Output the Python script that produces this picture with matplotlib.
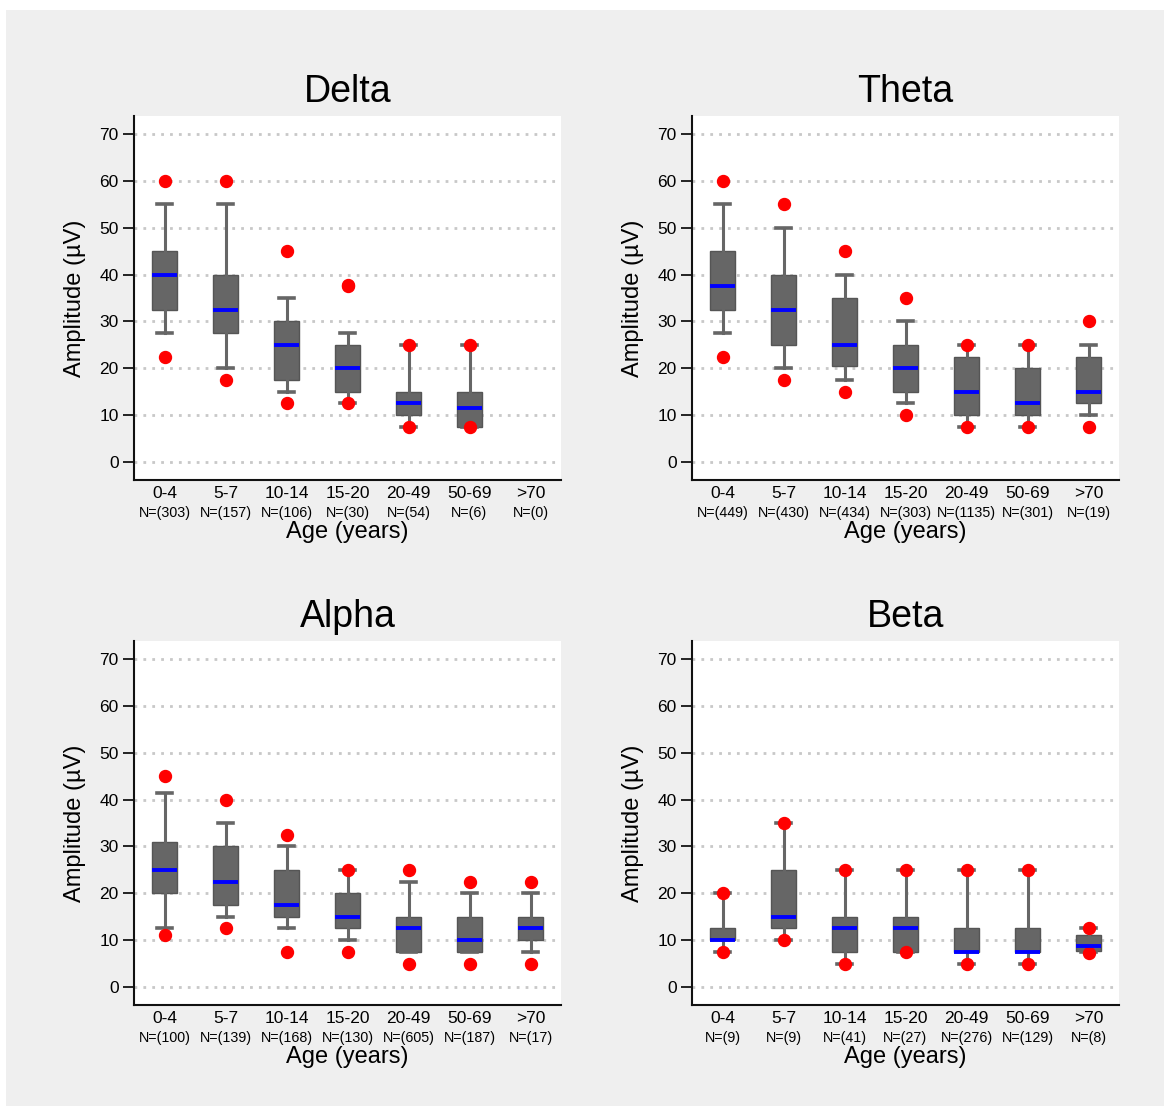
import matplotlib
matplotlib.use("Agg")
import matplotlib.pyplot as plt
from matplotlib.patches import Rectangle

plt.rcParams['font.family'] = ['Liberation Sans', 'DejaVu Sans']

# ---------------- data ----------------
age_groups = ["0-4", "5-7", "10-14", "15-20", "20-49", "50-69", ">70"]
titles = ["Delta", "Theta", "Alpha", "Beta"]

delta_n = [303, 157, 106, 30, 54, 6, 0]
delta_whislo = [27.5, 20, 15, 12.5, 7.5, 7.5]
delta_q1 = [32.5, 27.5, 17.5, 15, 10, 7.5]
delta_med = [40, 32.5, 25, 20, 12.5, 11.5]
delta_q3 = [45, 40, 30, 25, 15, 15]
delta_whishi = [55, 55, 35, 27.5, 25, 25]
delta_out = [[60, 22.5], [60, 17.5], [45, 12.5], [37.5, 37.8, 12.5], [25, 7.5], [25, 7.5]]

theta_n = [449, 430, 434, 303, 1135, 301, 19]
theta_whislo = [27.5, 20, 17.5, 12.5, 7.5, 7.5, 10]
theta_q1 = [32.5, 25, 20.5, 15, 10, 10, 12.5]
theta_med = [37.5, 32.5, 25, 20, 15, 12.5, 15]
theta_q3 = [45, 40, 35, 25, 22.5, 20, 22.5]
theta_whishi = [55, 50, 40, 30, 25, 25, 25]
theta_out = [[60, 22.5], [55, 17.5], [45, 15], [35, 10], [25, 7.5], [25, 7.5], [30, 7.5]]

alpha_n = [100, 139, 168, 130, 605, 187, 17]
alpha_whislo = [12.5, 15, 12.5, 10, 7.5, 7.5, 7.5]
alpha_q1 = [20, 17.5, 15, 12.5, 7.5, 7.5, 10]
alpha_med = [25, 22.5, 17.5, 15, 12.5, 10, 12.5]
alpha_q3 = [31, 30, 25, 20, 15, 15, 15]
alpha_whishi = [41.3, 35, 30, 25, 22.5, 20, 20]
alpha_out = [[45, 11], [40, 12.5], [32.5, 7.5], [25, 7.5], [25, 5], [22.5, 5], [22.5, 5]]

beta_n = [9, 9, 41, 27, 276, 129, 8]
beta_whislo = [7.5, 10, 5, 7.5, 5, 5, 7.5]
beta_q1 = [10, 12.5, 7.5, 7.5, 7.5, 7.5, 7.7]
beta_med = [10, 15, 12.5, 12.5, 7.5, 7.5, 8.7]
beta_q3 = [12.5, 25, 15, 15, 12.5, 12.5, 11]
beta_whishi = [20, 35, 25, 25, 25, 25, 12.5]
beta_out = [[20, 7.5], [35, 10], [25, 5], [25, 7.5], [25, 5], [25, 5], [12.5, 7.2]]

panels = [
    (delta_n, delta_whislo, delta_q1, delta_med, delta_q3, delta_whishi, delta_out),
    (theta_n, theta_whislo, theta_q1, theta_med, theta_q3, theta_whishi, theta_out),
    (alpha_n, alpha_whislo, alpha_q1, alpha_med, alpha_q3, alpha_whishi, alpha_out),
    (beta_n, beta_whislo, beta_q1, beta_med, beta_q3, beta_whishi, beta_out),
]

# ---------------- figure ----------------
W, H = 1164, 1106
fig = plt.figure(figsize=(W / 100, H / 100), dpi=100)
fig.patch.set_facecolor("white")
fig.patches.append(Rectangle((6 / W, 0), 1 - 6 / W, 1 - 10 / H, transform=fig.transFigure,
                             facecolor="#efefef", edgecolor="none", zorder=-10))

lefts = [134, 692]
tops = [116, 641]
aw, ah = 427, 364

for idx, (title, data) in enumerate(zip(titles, panels)):
    r, c = divmod(idx, 2)
    l = lefts[c]
    t = tops[r]
    ax = fig.add_axes([l / W, 1 - (t + ah) / H, aw / W, ah / H])
    ax.set_facecolor("white")
    n, wlo, q1, med, q3, whi, outs = data
    stats = []
    for i in range(len(q1)):
        stats.append(dict(whislo=wlo[i], q1=q1[i], med=med[i], q3=q3[i],
                          whishi=whi[i], fliers=outs[i]))
    positions = list(range(1, len(stats) + 1))
    ax.bxp(stats, positions=positions, widths=0.4, capwidths=0.23,
           patch_artist=True, showfliers=True,
           boxprops=dict(facecolor="#666666", edgecolor="#555555", linewidth=1.0),
           whiskerprops=dict(color="#666666", linewidth=2.2),
           capprops=dict(color="#666666", linewidth=2.6),
           medianprops=dict(color="#0000ff", linewidth=2.8, solid_capstyle="butt"),
           flierprops=dict(marker="o", markerfacecolor="#ff0000", markeredgecolor="#ff0000",
                           markersize=8.6, linestyle="none"))

    ax.set_xlim(0.5, 7.5)
    ax.set_ylim(-3.85, 73.85)
    ax.set_yticks(range(0, 71, 10))
    ax.yaxis.grid(True, color="#c8c8c8", linewidth=2.0, linestyle=(0, (1, 2.2)))
    ax.set_axisbelow(True)
    ax.tick_params(axis="y", direction="out", length=8, width=1.2, pad=3,
                   labelsize=12.5, colors="black")
    ax.set_xticks(range(1, 8))
    ax.set_xticklabels(age_groups, fontsize=12.5)
    ax.tick_params(axis="x", length=0, pad=4)
    for s in ["top", "right"]:
        ax.spines[s].set_visible(False)
    for s in ["left", "bottom"]:
        ax.spines[s].set_linewidth(1.5)
        ax.spines[s].set_color("#111111")

    for i, nv in enumerate(n):
        ax.annotate(f"N=({nv})", xy=(i + 1, 0), xycoords=("data", "axes fraction"),
                    xytext=(0, -24), textcoords="offset points",
                    ha="center", va="center", fontsize=10.3)
    ax.annotate("Age (years)", xy=(0.5, 0), xycoords="axes fraction",
                xytext=(0, -37.5), textcoords="offset points",
                ha="center", va="center", fontsize=17)
    ax.text(-59 / aw, 0.5, "Amplitude (µV)", transform=ax.transAxes, rotation=90,
            ha="center", va="center", fontsize=17)
    ax.set_title(title, fontsize=27, pad=10)

fig.savefig("out.png", dpi=100, facecolor=fig.get_facecolor())
